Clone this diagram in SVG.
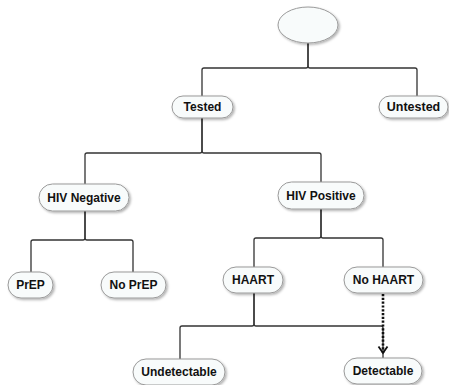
<svg xmlns="http://www.w3.org/2000/svg" width="449" height="385" viewBox="0 0 449 385">
<style>
.n{fill:#f8fbfb;stroke:#9a9a9a;stroke-width:1;filter:url(#sh)}
.t{font-family:"Liberation Sans",Arial,sans-serif;font-weight:bold;font-size:12px;fill:#111;text-anchor:middle;dominant-baseline:central}
.c{fill:none;stroke:#333;stroke-width:1.3}
.d{fill:none;stroke:#111;stroke-width:2.6;stroke-dasharray:2.2 1.6}
</style>
<defs>
<filter id="sh" x="-20%" y="-30%" width="140%" height="170%">
<feDropShadow dx="1.5" dy="1.5" stdDeviation="1" flood-color="#000" flood-opacity="0.3"/>
</filter>
<marker id="ar" markerWidth="10" markerHeight="12" refX="8" refY="6" orient="auto" markerUnits="userSpaceOnUse" viewBox="0 0 10 12">
<path d="M1.5,1.5 L8,6 L1.5,10.5" fill="none" stroke="#111" stroke-width="1.8"/>
</marker>
</defs>
<g id="connectors">
<path class="c" d="M308,43 V66 Q308,68 306,68 H204 Q202,68 202,70 V96"/>
<path class="c" d="M308,43 V66 Q308,68 310,68 H415 Q417,68 417,70 V96"/>
<path class="c" d="M202,118 V151 Q202,153 200,153 H87 Q85,153 85,155 V184"/>
<path class="c" d="M202,118 V151 Q202,153 204,153 H319 Q321,153 321,155 V182"/>
<path class="c" d="M85,211 V238 Q85,240 83,240 H33 Q31,240 31,242 V272"/>
<path class="c" d="M85,211 V238 Q85,240 87,240 H131 Q133,240 133,242 V272"/>
<path class="c" d="M321,209 V236 Q321,238 319,238 H256 Q254,238 254,240 V267"/>
<path class="c" d="M321,209 V236 Q321,238 323,238 H381 Q383,238 383,240 V267"/>
<path class="c" d="M254,293 V324 Q254,326 252,326 H182 Q180,326 180,328 V359"/>
<path class="c" d="M254,293 V324 Q254,326 256,326 H381 Q383,326 383,328 V358"/>
<path class="d" d="M383,294 V353" marker-end="url(#ar)"/>
</g>
<g id="root"><ellipse class="n" cx="308" cy="25" rx="30" ry="18"/></g>
<g id="tested"><rect class="n" x="172" y="96" width="61" height="22" rx="11"/><text class="t" x="202.5" y="107">Tested</text></g>
<g id="untested"><rect class="n" x="379" y="96" width="69" height="22" rx="11"/><text class="t" x="413.5" y="107" style="font-size:12.5px">Untested</text></g>
<g id="hivneg"><rect class="n" x="39" y="184" width="90" height="27" rx="13.5"/><text class="t" x="84" y="197.5">HIV Negative</text></g>
<g id="hivpos"><rect class="n" x="278" y="182" width="86" height="27" rx="13.5"/><text class="t" x="321" y="195.5">HIV Positive</text></g>
<g id="prep"><rect class="n" x="8" y="272" width="45" height="26" rx="13"/><text class="t" x="30.5" y="285">PrEP</text></g>
<g id="noprep"><rect class="n" x="101" y="272" width="65" height="26" rx="13"/><text class="t" x="133.5" y="285">No PrEP</text></g>
<g id="haart"><rect class="n" x="223" y="267" width="60" height="26" rx="13"/><text class="t" x="253" y="280">HAART</text></g>
<g id="nohaart"><rect class="n" x="344" y="267" width="79" height="26" rx="13"/><text class="t" x="383.5" y="280">No HAART</text></g>
<g id="undetectable"><rect class="n" x="133" y="359" width="92" height="26" rx="13"/><text class="t" x="179" y="372">Undetectable</text></g>
<g id="detectable"><rect class="n" x="344" y="358" width="78" height="26" rx="13"/><text class="t" x="383" y="371">Detectable</text></g>
</svg>
